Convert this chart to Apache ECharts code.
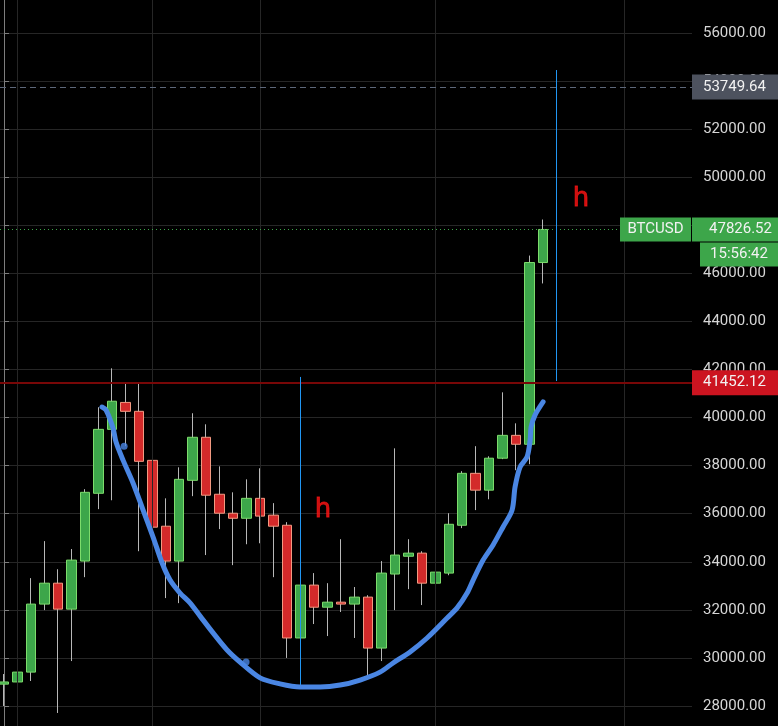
<!DOCTYPE html>
<html>
<head>
<meta charset="utf-8">
<script src="https://cdn.jsdelivr.net/npm/echarts@6/dist/echarts.min.js"></script>
<style>
  html, body { margin: 0; background: #000; }
  #main { width: 778px; height: 726px; }
</style>
</head>
<body>
<div id="main"></div>
<script>
// BTCUSD daily candles, 2020-12-31 .. 2021-02-09
const dates = [
  '2020-12-31', '2021-01-01', '2021-01-02', '2021-01-03', '2021-01-04', '2021-01-05',
  '2021-01-06', '2021-01-07', '2021-01-08', '2021-01-09', '2021-01-10', '2021-01-11',
  '2021-01-12', '2021-01-13', '2021-01-14', '2021-01-15', '2021-01-16', '2021-01-17',
  '2021-01-18', '2021-01-19', '2021-01-20', '2021-01-21', '2021-01-22', '2021-01-23',
  '2021-01-24', '2021-01-25', '2021-01-26', '2021-01-27', '2021-01-28', '2021-01-29',
  '2021-01-30', '2021-01-31', '2021-02-01', '2021-02-02', '2021-02-03', '2021-02-04',
  '2021-02-05', '2021-02-06', '2021-02-07', '2021-02-08', '2021-02-09'
];
const opens = [
  28910, 29000, 29410, 32240, 33110, 32030, 34030, 36850, 39510, 40630, 40260, 38220,
  35480, 34030, 37390, 39180, 36810, 36020, 35810, 36640, 35940, 35520, 30830, 33030,
  32110, 32320, 32240, 32530, 30410, 33490, 34230, 34360, 33110, 33530, 35520, 37680,
  36980, 38310, 39260, 38890, 46450
];
const closes = [
  29000, 29410, 32240, 33110, 32030, 34070, 36890, 39510, 40680, 40260, 38180, 35440,
  34030, 37430, 39180, 36770, 36020, 35810, 36640, 35900, 35480, 30830, 33030, 32110,
  32320, 32240, 32530, 30410, 33530, 34280, 34360, 33110, 33570, 35560, 37680, 36980,
  38310, 39260, 38890, 46450, 47826.52
];
const lows = [
  28000, 28670, 29040, 31990, 27710, 29870, 33360, 36190, 36560, 38810, 34440, 30080,
  32490, 32280, 36730, 34280, 35360, 33860, 34730, 34770, 33360, 30000, 30740, 31410,
  30910, 31910, 30830, 29290, 29870, 31990, 32860, 32200, 32320, 33440, 35400, 36150,
  36600, 38270, 37810, 38060, 45580
];
const highs = [
  29330, 29700, 33320, 34860, 33690, 34530, 37020, 40430, 42050, 41470, 41470, 38310,
  36640, 37930, 40180, 39720, 37970, 36890, 37430, 37890, 36440, 35650, 33110, 33530,
  33110, 34940, 32950, 32610, 34030, 38720, 34940, 34440, 34770, 36020, 37770, 38810,
  38390, 41050, 39760, 46740, 48240
];

// price lines on the right scale
const lastPrice = 47826.52;
const rimPrice = 41452.12;
const targetPrice = 53749.64;
const countdown = '15:56:42';

// time grid dates
const gridDates = ['2021-01-01', '2021-01-11', '2021-01-19', '2021-02-01', '2021-02-15'];

// hand-drawn cup (x = days since first candle, y = price)
const cupX = [7.27, 7.57, 8.09, 8.31, 8.83, 9.57, 10.32, 11.06, 11.73, 12.32, 13.06, 13.8,
  14.55, 15.51, 16.55, 17.51, 19.0, 20.48, 21.97, 23.45, 24.94, 26.42, 27.9, 28.87, 30.13,
  31.39, 32.88, 33.62, 34.36, 34.81, 35.55, 36.29, 37.03, 37.7, 37.92, 38.29, 38.81, 39.04,
  39.11, 39.41, 40.0];
const cupY = [40440, 40310, 39560, 38980, 38230, 37280, 36150, 35030, 33950, 33240, 32700, 32290,
  31740, 31040, 30330, 29830, 29170, 28920, 28790, 28790, 28870, 29080, 29410, 29790, 30250,
  30830, 31660, 32080, 32700, 33240, 34070, 34700, 35450, 36150, 37110, 37940, 38360, 39070,
  39610, 40110, 40650];
const dotX = [8.91, 17.96];
const dotY = [38810, 29830];

// "h" measurement lines and labels
const measureDates = ['2021-01-22', '2021-02-10'];
const measureLow = [28830, 41520];
const measureHigh = [41690, 54460];
const hX = [23.67, 42.82];
const hY = [36150, 49090];

const dayIndex = (d) => (Date.parse(d) - Date.parse(dates[0])) / 86400000;

const ohlc = dates.map((d, i) => [i, opens[i], closes[i], lows[i], highs[i]]);
const bodies = dates.map((d, i) => [
  i, opens[i], closes[i],
  Math.min(opens[i], closes[i]), Math.max(opens[i], closes[i])
]);

const green = '#3da64a';
const boxLabel = (bg) => ({
  show: true,
  position: 'end',
  distance: 0,
  color: '#f2f2f2',
  backgroundColor: bg,
  fontSize: 15,
  lineHeight: 16,
  padding: [4, 0, 5, 11],
  width: 75,
  align: 'left',
  formatter: (p) => p.value.toFixed(2)
});

const chart = echarts.init(document.getElementById('main'));

const option = {
  backgroundColor: '#000000',
  animation: false,
  textStyle: { fontFamily: 'Roboto' },
  grid: {
    left: 0, right: 86, top: -15.07, bottom: -28.07,
    containLabel: false,
    outerBoundsMode: 'none'
  },
  dataset: [{ source: ohlc }, { source: bodies }],
  xAxis: {
    type: 'value',
    min: -0.3,
    max: 51.05,
    show: false
  },
  yAxis: {
    type: 'value',
    position: 'right',
    min: 26000,
    max: 58000,
    interval: 2000,
    axisLine: { show: true, lineStyle: { color: '#7d7d7d' } },
    axisTick: { show: true, length: 5, lineStyle: { color: '#7d7d7d' } },
    axisLabel: {
      color: '#d6d6d6',
      fontSize: 15,
      margin: 11,
      formatter: (v) => v.toFixed(2)
    },
    splitLine: { lineStyle: { color: '#262626' } }
  },
  series: [
    {
      // vertical time grid
      type: 'line',
      data: [],
      z: 1,
      silent: true,
      markLine: {
        silent: true,
        symbol: ['none', 'none'],
        label: { show: false },
        lineStyle: { color: '#262626', width: 1, type: 'solid' },
        data: gridDates.map((d) => ({ xAxis: dayIndex(d) }))
      }
    },
    {
      // wicks
      type: 'candlestick',
      datasetIndex: 0,
      encode: { x: 0, y: [1, 2, 3, 4] },
      barWidth: 1,
      z: 2,
      silent: true,
      itemStyle: {
        color: '#b8b8b8', color0: '#b8b8b8',
        borderColor: '#b8b8b8', borderColor0: '#b8b8b8',
        borderWidth: 1
      }
    },
    {
      // bodies
      type: 'candlestick',
      datasetIndex: 1,
      encode: { x: 0, y: [1, 2, 3, 4] },
      barWidth: 10,
      z: 3,
      silent: true,
      itemStyle: {
        color: green, color0: '#d32a2a',
        borderColor: '#7ddc6c', borderColor0: '#f29a82',
        borderWidth: 1
      }
    },
    {
      // price lines and measurement lines
      type: 'line',
      data: [],
      zlevel: 1,
      z: 4,
      clip: false,
      silent: true,
      markLine: {
        silent: true,
        symbol: ['none', 'none'],
        emphasis: { disabled: true },
        data: [
          {
            yAxis: targetPrice,
            lineStyle: { color: '#5d6779', width: 1, type: [6, 4] },
            label: boxLabel('#4d525e')
          },
          {
            yAxis: rimPrice,
            lineStyle: { color: '#780707', width: 2, type: 'solid' },
            label: boxLabel('#cc1420')
          },
          {
            yAxis: lastPrice,
            lineStyle: { color: green, width: 1, type: [1, 3] },
            label: {
              show: true,
              position: 'end',
              distance: 0,
              offset: [-72, 12],
              formatter: () =>
                '{a|BTCUSD}{g|}{b|' + lastPrice.toFixed(2) + '}\n{s|}{c|' + countdown + '}',
              rich: {
                a: { backgroundColor: green, color: '#f2f2f2', fontSize: 15, width: 71, height: 24, lineHeight: 26, align: 'center' },
                g: { width: 1, height: 24, lineHeight: 26 },
                b: { backgroundColor: green, color: '#f2f2f2', fontSize: 15, width: 75, height: 24, lineHeight: 26, padding: [0, 0, 0, 11] },
                s: { width: 80, height: 24, lineHeight: 24 },
                c: { backgroundColor: green, color: '#f2f2f2', fontSize: 15, width: 78, height: 24, lineHeight: 24, align: 'center' }
              }
            }
          },
          ...measureDates.map((d, i) => [
            { coord: [dayIndex(d), measureLow[i]] },
            { coord: [dayIndex(d), measureHigh[i]] }
          ].map((p) => Object.assign(p, {
            lineStyle: { color: '#2196f3', width: 1, type: 'solid' },
            label: { show: false }
          })))
        ]
      }
    },
    {
      // drawn cup
      type: 'line',
      data: cupX.map((x, i) => [x, cupY[i]]),
      smooth: 0.3,
      showSymbol: false,
      zlevel: 1,
      z: 5,
      silent: true,
      lineStyle: { color: '#4a86e3', width: 5, cap: 'round', join: 'round' }
    },
    {
      type: 'scatter',
      data: dotX.map((x, i) => [x, dotY[i]]),
      symbolSize: 7,
      zlevel: 1,
      z: 5,
      silent: true,
      itemStyle: { color: '#4a86e3' }
    },
    {
      // "h" labels
      type: 'scatter',
      data: hX.map((x, i) => [x, hY[i]]),
      symbolSize: 1,
      zlevel: 1,
      z: 6,
      silent: true,
      itemStyle: { color: 'transparent' },
      label: {
        show: true,
        position: 'inside',
        formatter: 'h',
        color: '#ff1414',
        textBorderColor: '#ff1414',
        textBorderWidth: 0.8,
        fontSize: 26,
        fontFamily: 'DejaVu Sans'
      }
    }
  ]
};

chart.setOption(option);
</script>
</body>
</html>
